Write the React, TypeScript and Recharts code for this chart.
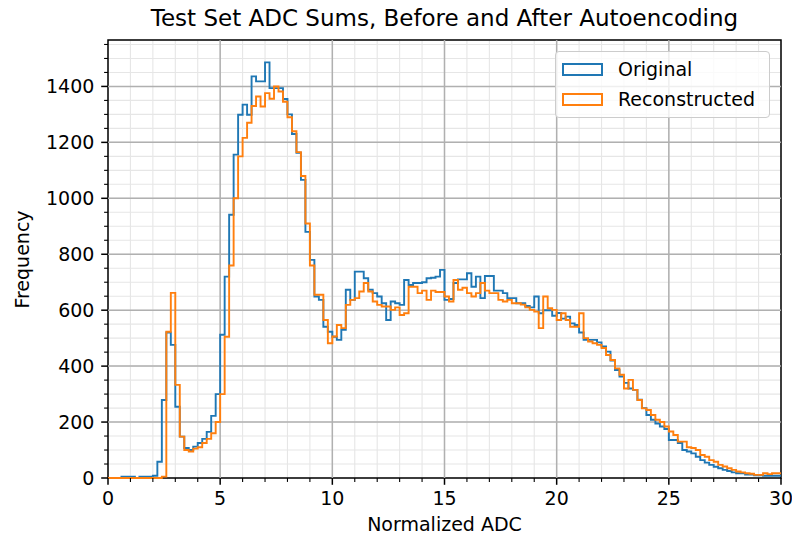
import React from 'react'
import {
  LineChart,
  Line,
  XAxis,
  YAxis,
  CartesianGrid,
  ReferenceLine,
  ReferenceArea,
  Legend
} from 'recharts'

const FONT = '"DejaVu Sans", Verdana, sans-serif'
const BLUE = '#1f77b4'
const ORANGE = '#ff7f0e'

const BIN_WIDTH = 0.2
const X_MAX = 30
const Y_MAX = 1566

// counts per 0.2-wide bin, starting at 0
const original = [
  0, 0, 0, 5, 5, 5, 0, 5, 5, 5,
  8, 58, 279, 520, 476, 255, 148, 107, 100, 112,
  125, 140, 165, 222, 300, 512, 720, 941, 1156, 1299,
  1335, 1299, 1436, 1418, 1418, 1486, 1394, 1394, 1394, 1355,
  1300, 1230, 1163, 1066, 880, 780, 649, 637, 541, 523,
  505, 494, 530, 673, 637, 738, 738, 714, 673, 661,
  649, 625, 565, 631, 625, 619, 708, 690, 697, 697,
  700, 714, 716, 720, 744, 637, 640, 697, 710, 710,
  732, 684, 720, 643, 722, 722, 670, 670, 661, 643,
  643, 625, 625, 615, 610, 649, 589, 600, 600, 580,
  590, 570, 577, 553, 547, 520, 494, 494, 494, 485,
  470, 452, 420, 386, 363, 340, 320, 315, 280, 250,
  225, 208, 195, 184, 175, 136, 136, 125, 100, 95,
  88, 76, 64, 55, 47, 40, 35, 29, 25, 20,
  17, 17, 12, 12, 10, 10, 8, 8, 8, 8
]

const reconstructed = [
  0, 0, 0, 0, 0, 0, 0, 0, 0, 0,
  0, 0, 5, 523, 662, 333, 148, 100, 95, 105,
  110, 125, 140, 160, 200, 300, 505, 760, 1000, 1150,
  1216, 1270, 1330, 1364, 1328, 1376, 1356, 1400, 1382, 1345,
  1290, 1240, 1165, 1080, 910, 760, 655, 655, 565, 482,
  506, 547, 536, 619, 637, 643, 667, 697, 667, 631,
  619, 613, 613, 601, 610, 583, 589, 684, 684, 661,
  670, 637, 670, 665, 665, 649, 631, 708, 673, 680,
  661, 649, 661, 697, 670, 661, 661, 637, 631, 637,
  625, 625, 620, 610, 601, 595, 536, 649, 607, 601,
  565, 589, 565, 541, 541, 589, 500, 488, 482, 476,
  465, 440, 422, 392, 369, 320, 351, 315, 279, 249,
  243, 225, 208, 200, 184, 166, 154, 130, 130, 110,
  107, 100, 82, 76, 64, 58, 47, 41, 35, 29,
  23, 20, 17, 15, 11, 11, 17, 14, 17, 17
]

const xTicks = Array.from({ length: 31 }, (_, i) => i)
const xMajor = [5, 10, 15, 20, 25]
const yTicks = Array.from({ length: 32 }, (_, i) => i * 50)
const yMajor = [200, 400, 600, 800, 1000, 1200, 1400]

// step-after rows: one per bin edge, last edge repeats the final count
const rows = original.map((v, i) => ({
  x: Math.round(i * BIN_WIDTH * 10) / 10,
  original: v,
  reconstructed: reconstructed[i]
}))
rows.push({
  x: X_MAX,
  original: original[original.length - 1],
  reconstructed: reconstructed[reconstructed.length - 1]
})

function XTick({ x, y, payload }: any) {
  const major = payload.value % 5 === 0
  return (
    <g>
      <line x1={x} x2={x} y1={y} y2={y + (major ? 6.8 : 3.9)} stroke="#000" strokeWidth={major ? 1.5 : 1.1} />
      {major && (
        <text x={x} y={y + 27} textAnchor="middle" fontFamily={FONT} fontSize={19} fill="#000">
          {payload.value}
        </text>
      )}
    </g>
  )
}

function YTick({ x, y, payload }: any) {
  const major = payload.value % 200 === 0
  return (
    <g>
      <line x1={x} x2={x - (major ? 6.8 : 3.9)} y1={y} y2={y} stroke="#000" strokeWidth={major ? 1.5 : 1.1} />
      {major && (
        <text x={x - 13.6} y={y + 7} textAnchor="end" fontFamily={FONT} fontSize={19} fill="#000">
          {payload.value}
        </text>
      )}
    </g>
  )
}

function HistLegend({ payload }: any) {
  return (
    <div
      style={{
        boxSizing: 'border-box',
        width: 215,
        height: 67,
        border: '1px solid #cccccc',
        borderRadius: 4,
        background: 'rgba(255,255,255,0.8)',
        padding: '3px 0 0 6px',
        fontFamily: FONT,
        fontSize: 19,
        color: '#000'
      }}
    >
      {(payload || []).map((entry: any) => (
        <div key={entry.value} style={{ display: 'flex', alignItems: 'center', height: 29.4 }}>
          <span
            style={{
              display: 'inline-block',
              boxSizing: 'border-box',
              width: 41,
              height: 13,
              border: `2px solid ${entry.color}`
            }}
          />
          <span style={{ marginLeft: 15, lineHeight: 1 }}>{entry.value}</span>
        </div>
      ))}
    </div>
  )
}

export default function App() {
  return (
    <div style={{ position: 'absolute', left: 0, top: 0, width: 792, height: 539, background: '#fff' }}>
      <div
        style={{
          position: 'absolute',
          left: 108,
          width: 673,
          top: 7,
          textAlign: 'center',
          fontFamily: FONT,
          fontSize: 23,
          lineHeight: 1,
          color: '#000',
          whiteSpace: 'nowrap'
        }}
      >
        Test Set ADC Sums, Before and After Autoencoding
      </div>
      <div
        style={{
          position: 'absolute',
          left: 108,
          width: 673,
          top: 515,
          textAlign: 'center',
          fontFamily: FONT,
          fontSize: 19,
          lineHeight: 1,
          color: '#000'
        }}
      >
        Normalized ADC
      </div>
      <div
        style={{
          position: 'absolute',
          left: 22 - 60,
          width: 120,
          top: 259 - 9.5,
          textAlign: 'center',
          fontFamily: FONT,
          fontSize: 19,
          lineHeight: 1,
          color: '#000',
          transform: 'rotate(-90deg)'
        }}
      >
        Frequency
      </div>
      <LineChart
        width={792}
        height={539}
        data={rows}
        margin={{ top: 40, right: 11, bottom: 0, left: 0 }}
      >
        <CartesianGrid stroke="#e6e6e6" strokeWidth={1.1} />
        {xMajor.map(v => (
          <ReferenceLine key={`vx${v}`} x={v} stroke="#b0b0b0" strokeWidth={1.5} />
        ))}
        {yMajor.map(v => (
          <ReferenceLine key={`hy${v}`} y={v} stroke="#b0b0b0" strokeWidth={1.5} />
        ))}
        <XAxis
          dataKey="x"
          type="number"
          domain={[0, X_MAX]}
          ticks={xTicks}
          interval={0}
          height={61}
          axisLine={false}
          tickLine={false}
          tickSize={0}
          tickMargin={0}
          tick={<XTick />}
        />
        <YAxis
          type="number"
          domain={[0, Y_MAX]}
          ticks={yTicks}
          interval={0}
          width={108}
          axisLine={false}
          tickLine={false}
          tickSize={0}
          tickMargin={0}
          tick={<YTick />}
        />
        <Line
          type="stepAfter"
          dataKey="original"
          name="Original"
          stroke={BLUE}
          strokeWidth={1.9}
          dot={false}
          isAnimationActive={false}
        />
        <Line
          type="stepAfter"
          dataKey="reconstructed"
          name="Reconstructed"
          stroke={ORANGE}
          strokeWidth={1.9}
          dot={false}
          isAnimationActive={false}
        />
        <ReferenceArea x1={0} x2={X_MAX} y1={0} y2={Y_MAX} fill="none" fillOpacity={0} stroke="#000" strokeWidth={1.5} />
        <Legend
          layout="vertical"
          align="center"
          verticalAlign="middle"
          content={<HistLegend />}
          wrapperStyle={{ left: 555, top: 51, width: 215, height: 67 }}
        />
      </LineChart>
    </div>
  )
}
